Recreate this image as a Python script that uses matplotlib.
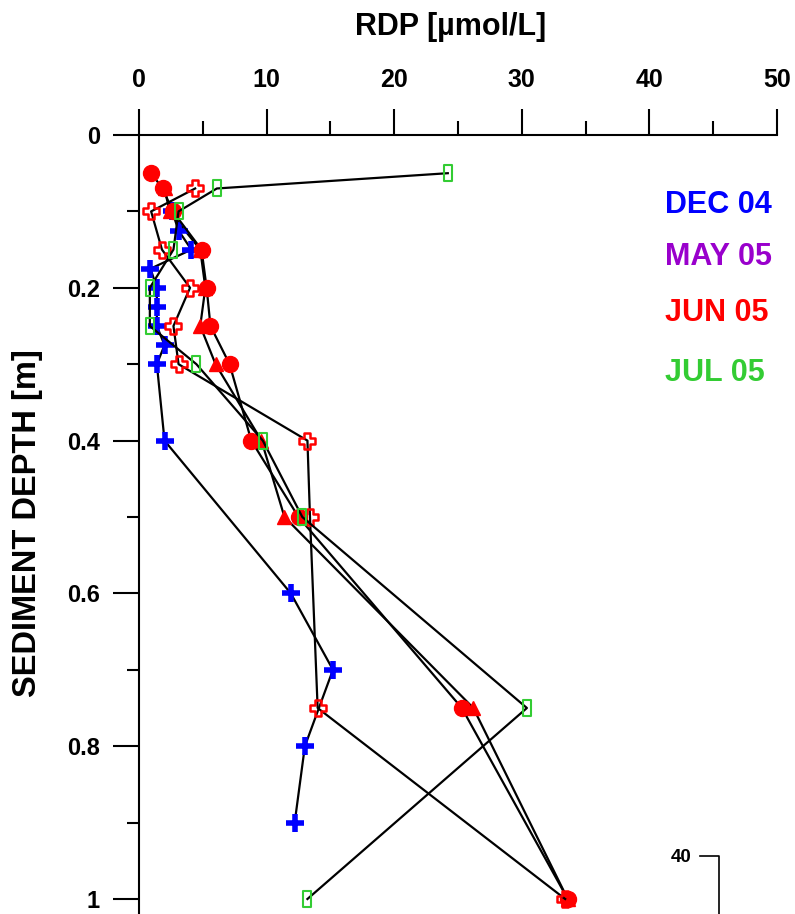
import matplotlib
matplotlib.use("Agg")
import matplotlib.pyplot as plt
from matplotlib.lines import Line2D
from matplotlib.path import Path
from matplotlib.ticker import MultipleLocator, FixedLocator

plt.rcParams['font.family'] = ['Liberation Sans', 'DejaVu Sans']
plt.rcParams['font.weight'] = 'bold'

# Datos: RDP [µmol/L] frente a profundidad [m]
dec04_depth = [0.10, 0.125, 0.15, 0.175, 0.20, 0.225, 0.25, 0.275, 0.30, 0.40, 0.60, 0.70, 0.80, 0.90]
dec04_rdp = [2.6, 3.1, 4.1, 0.9, 1.4, 1.4, 1.4, 2.0, 1.4, 2.0, 11.9, 15.2, 13.0, 12.2]

circ_depth = [0.05, 0.07, 0.10, 0.15, 0.20, 0.25, 0.30, 0.40, 0.50, 0.75, 1.00]
circ_rdp = [0.95, 1.85, 2.65, 4.9, 5.3, 5.6, 7.1, 8.8, 12.5, 25.3, 33.6]

tri_depth = [0.07, 0.10, 0.15, 0.20, 0.25, 0.30, 0.40, 0.50, 0.75, 1.00]
tri_rdp = [2.0, 2.4, 4.8, 5.2, 4.8, 6.0, 9.6, 11.4, 26.2, 33.6]

cross_depth = [0.07, 0.10, 0.15, 0.20, 0.25, 0.30, 0.40, 0.50, 0.75, 1.00]
cross_rdp = [4.4, 0.95, 1.8, 4.0, 2.7, 3.1, 13.2, 13.4, 14.0, 33.4]

jul05_depth = [0.05, 0.07, 0.10, 0.15, 0.20, 0.25, 0.30, 0.40, 0.50, 0.75, 1.00]
jul05_rdp = [24.2, 6.1, 3.1, 2.7, 0.85, 0.85, 4.5, 9.7, 12.8, 30.4, 13.2]

labels = ['DEC 04', 'MAY 05', 'JUN 05', 'JUL 05']
label_colors = ['#0000FF', '#9900CC', '#FF0000', '#33CC33']

# Marcadores especiales
a = 0.17
cross_path = Path([(-a, -0.5), (a, -0.5), (a, -a), (0.5, -a), (0.5, a), (a, a), (a, 0.5),
                   (-a, 0.5), (-a, a), (-0.5, a), (-0.5, -a), (-a, -a), (-a, -0.5)], closed=True)
rect_path = Path([(-0.25, -0.5), (0.25, -0.5), (0.25, 0.5), (-0.25, 0.5), (-0.25, -0.5)], closed=True)

W, H = 795, 914
fig = plt.figure(figsize=(W / 100, H / 100), dpi=100)

x0, x1 = 139, 777
y0, ypix_per = 135, 764
ybot = 1.05
ax = fig.add_axes([x0 / W, (H - (y0 + ybot * ypix_per)) / H,
                   (x1 - x0) / W, ybot * ypix_per / H])

ax.plot(tri_rdp, tri_depth, color='k', lw=1.6, marker='^', ms=10,
        mfc='#FF0000', mec='#FF0000', zorder=2.8)
ax.plot(dec04_rdp, dec04_depth, color='k', lw=1.6, marker='+', ms=13,
        mfc='#0000FF', mec='#0000FF', mew=4, zorder=2.9)
ax.plot(circ_rdp, circ_depth, color='k', lw=1.6, marker='o', ms=11.5,
        mfc='#FF0000', mec='#FF0000', zorder=3)
ax.plot(cross_rdp, cross_depth, color='k', lw=1.6, marker=cross_path, ms=12,
        mfc='none', mec='#FF0000', mew=1.8, zorder=3.05)
ax.plot(jul05_rdp, jul05_depth, color='k', lw=1.6, marker=rect_path, ms=12,
        mfc='none', mec='#33CC33', mew=1.5, zorder=3.1)

ax.set_xlim(0, 50)
ax.set_ylim(ybot, 0)
ax.xaxis.tick_top()
ax.xaxis.set_major_locator(MultipleLocator(10))
ax.xaxis.set_minor_locator(MultipleLocator(5))
ax.yaxis.set_major_locator(FixedLocator([0, 0.2, 0.4, 0.6, 0.8, 1.0]))
ax.yaxis.set_minor_locator(FixedLocator([0.1, 0.3, 0.5, 0.7, 0.9]))
ax.set_yticklabels(['0', '0.2', '0.4', '0.6', '0.8', '1'])
ax.tick_params(axis='x', which='major', direction='out', length=19, width=1.5,
               labelsize=18, pad=12)
ax.tick_params(axis='x', which='minor', direction='out', length=10, width=1.5)
ax.tick_params(axis='y', which='major', direction='out', length=19, width=1.5,
               labelsize=17, pad=9)
ax.tick_params(axis='y', which='minor', direction='out', length=9, width=1.5)
for lab in ax.get_xticklabels() + ax.get_yticklabels():
    lab.set_fontweight('bold')

ax.spines['right'].set_visible(False)
ax.spines['bottom'].set_visible(False)
ax.spines['top'].set_linewidth(1.5)
ax.spines['left'].set_linewidth(1.5)

fig.text(451 / W, 1 - 27 / H, 'RDP [µmol/L]', ha='center', va='center',
         fontsize=22, fontweight='bold')
fig.text(28 / W, 1 - 523 / H, 'SEDIMENT DEPTH [m]', ha='center', va='center',
         rotation=90, fontsize=23.5, fontweight='bold')

label_y = [205, 257, 313, 373]
for txt, col, yy in zip(labels, label_colors, label_y):
    fig.text(665 / W, 1 - yy / H, txt, ha='left', va='center', color=col,
             fontsize=22, fontweight='bold')

# Resto de un panel vecino (recortado)
fig.text(681 / W, 1 - 857 / H, '40', ha='center', va='center', fontsize=13.5,
         fontweight='bold')
fig.add_artist(Line2D([700 / W, 719 / W, 719 / W], [1 - 856 / H, 1 - 856 / H, 0],
                      color='k', lw=1.2, transform=fig.transFigure))

plt.savefig('out.png', dpi=100)
